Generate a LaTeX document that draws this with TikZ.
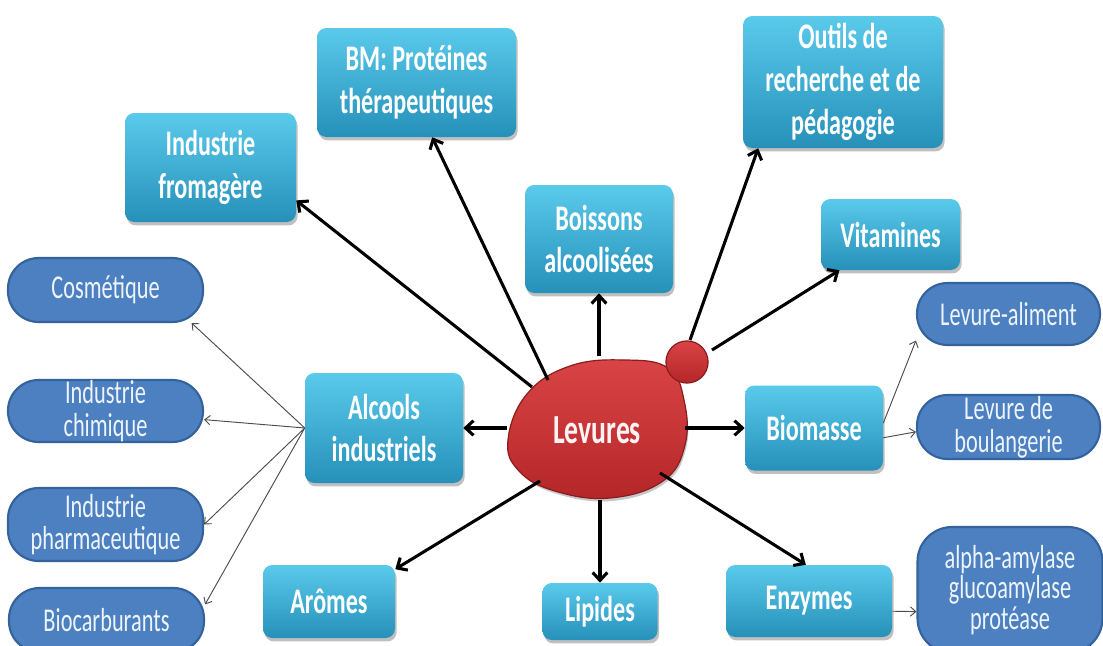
\documentclass[tikz,border=0pt]{standalone}
\usepackage{fontspec}
\setmainfont{Carlito}
\newfontfamily\cfont[FakeStretch=0.67]{Carlito}
\usetikzlibrary{arrows.meta,shadows}

\definecolor{boxtop}{HTML}{5ACAEB}
\definecolor{boxmid}{HTML}{38AED6}
\definecolor{boxbot}{HTML}{2690B9}
\definecolor{ovalfill}{HTML}{4C80C1}
\definecolor{ovaledge}{HTML}{34629C}
\definecolor{ovaltext}{HTML}{EDF4FC}
\definecolor{redtop}{HTML}{D94446}
\definecolor{redbot}{HTML}{B42628}
\definecolor{rededge}{HTML}{8A1C1E}

\tikzset{
  wh/.style 2 args={minimum width=#1*0.75pt, minimum height=#2*0.75pt},
  appbox/.style={rounded corners=7pt, inner sep=0pt, align=center,
    top color=boxtop, middle color=boxmid, bottom color=boxbot,
    drop shadow={shadow xshift=1.2pt, shadow yshift=-2.6pt, opacity=0.35, fill=black!70},
    text=white, font=\cfont\bfseries\fontsize{27}{32}\selectfont},
  usebox/.style={rounded corners=23pt, inner sep=0pt, align=center,
    fill=ovalfill, draw=ovaledge, line width=1.6pt,
    text=ovaltext, font=\cfont\fontsize{25}{24.5}\selectfont},
  heavy/.style={line width=2.3pt, draw=black,
    -{Straight Barb[length=6pt,width=11pt]}},
  thin/.style={line width=0.7pt, draw=black!70,
    -{Straight Barb[length=4pt,width=7pt]}},
}

\begin{document}
\begin{tikzpicture}[x=0.75pt,y=-0.75pt]
\useasboundingbox (0,0) rectangle (1103,646);
\clip (0,0) rectangle (1103,646);
\fill[white] (0,0) rectangle (1103,646);

% application boxes
\node[appbox, wh={171}{109}] (fro) at (210.5,167.5) {Industrie\\fromagère};
\node[appbox, wh={199}{109}] (bm)  at (416.5,82.5) {BM: Protéines\\thérapeutiques};
\node[appbox, wh={200}{132}] (out) at (843,82) {Outils de\\recherche et de\\pédagogie};
\node[appbox, wh={148}{108}] (boi) at (599,239) {Boissons\\alcoolisées};
\node[appbox, wh={139}{71}]  (vit) at (890.5,234.5) {Vitamines};
\node[appbox, wh={158}{110}] (alc) at (384,428) {Alcools\\industriels};
\node[appbox, wh={138}{85}]  (bio) at (814,428) {Biomasse};
\node[appbox, wh={132}{73}]  (aro) at (329,601.5) {Arômes};
\node[appbox, wh={115}{57}]  (lip) at (600,611.5) {Lipides};
\node[appbox, wh={166}{72}]  (enz) at (809,601) {Enzymes};

% end uses
\node[usebox, wh={195}{64}] (cos)  at (105.5,290) {Cosmétique};
\node[usebox, wh={195}{62}] (chi)  at (105.5,411) {Industrie\\chimique};
\node[usebox, wh={195}{73}] (pha)  at (105.5,524.5) {Industrie\\pharmaceutique};
\node[usebox, wh={195}{64}] (bioc) at (106.5,620) {Biocarburants};
\node[usebox, wh={183}{62}] (lal)  at (1008.5,314) {Levure-aliment};
\node[usebox, wh={183}{64}] (lbo)  at (1008.5,427) {Levure de\\boulangerie};
\node[usebox, wh={185}{126}, rounded corners=26pt,
      font=\cfont\fontsize{25}{23}\selectfont] (amy) at (1010,590)
  {alpha-amylase\\glucoamylase\\protéase};

% central yeast cell with its bud
\fill[black, opacity=0.22] plot[smooth cycle, tension=0.7] coordinates {
  (511,444) (530,399) (572,372) (627,366) (670,374) (685,404)
  (686,449) (664,484) (612,501) (557,494) (522,474)};
\shade[top color=redtop, bottom color=redbot, draw=rededge, line width=0.9pt]
  plot[smooth cycle, tension=0.7] coordinates {
  (508,440) (527,394) (570,366) (625,360) (668,368) (684,400)
  (685,445) (663,481) (610,498) (555,491) (519,471)};
\shade[top color=redtop, bottom color=redbot, draw=rededge, line width=0.9pt]
  (687,362) circle[radius=15.8pt];
\node[text=white!95!red, font=\cfont\bfseries\fontsize{31}{32}\selectfont]
  (lev) at (597,430) {Levures};

% starting points on the cell border
\coordinate (s1)  at (532,387);
\coordinate (s2)  at (548,380);
\coordinate (s3)  at (690,340);
\coordinate (s4)  at (599,356);
\coordinate (s5)  at (712,350);
\coordinate (s6)  at (507,428);
\coordinate (s7)  at (685,428);
\coordinate (s8)  at (540,481);
\coordinate (s9)  at (600,500);
\coordinate (s10) at (660,473);

\draw[heavy] (s1)  -- (fro.-21);
\draw[heavy] (s2)  -- (bm.-74);
\draw[heavy] (s3)  -- (out.218.5);
\draw[heavy] (s4)  -- (boi.south);
\draw[heavy] (s5)  -- (vit.215);
\draw[heavy] (s6)  -- (alc.east);
\draw[heavy] (s7)  -- (bio.west);
\draw[heavy] (s8)  -- (aro.26);
\draw[heavy] (s9)  -- (lip.north);
\draw[heavy] (s10) -- (enz.95);

% secondary links
\draw[thin] (alc.west) -- (cos.-21);
\draw[thin] (alc.west) -- (chi.-5);
\draw[thin] (alc.west) -- (pha.east);
\draw[thin] (alc.west) -- (bioc.9);
\draw[thin] (bio.4)  -- (lal.196);
\draw[thin] (bio.-8) -- (lbo.183);
\draw[thin] (enz.-7.5) -- (amy.193.6);
\end{tikzpicture}
\end{document}
